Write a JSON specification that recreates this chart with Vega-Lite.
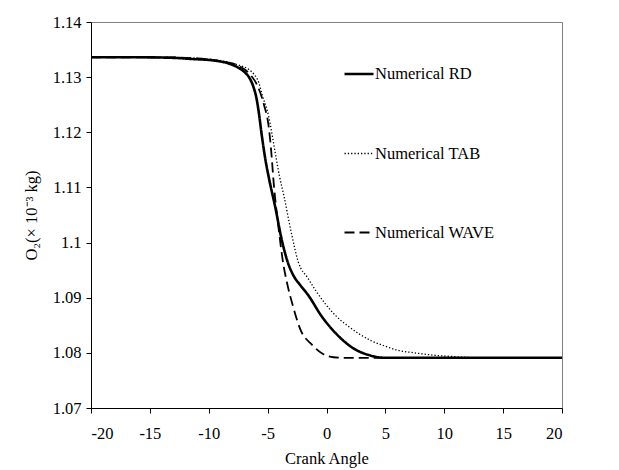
{
  "$schema": "https://vega.github.io/schema/vega-lite/v6.json",
  "autosize": "none",
  "width": 471,
  "height": 386,
  "padding": {"left": 91, "top": 22, "right": 57, "bottom": 62},
  "background": "white",
  "config": {
    "view": {"stroke": "#808080", "strokeWidth": 1},
    "font": "Liberation Serif",
    "axis": {
      "grid": false,
      "domainColor": "black",
      "tickColor": "black",
      "labelColor": "black",
      "titleColor": "black",
      "labelFont": "Liberation Serif",
      "titleFont": "Liberation Serif",
      "labelFontSize": 16.5,
      "titleFontSize": 16.5,
      "titleFontWeight": "normal",
      "tickSize": 5
    },
    "legend": {
      "labelFont": "Liberation Serif",
      "labelFontSize": 16.5,
      "labelColor": "black",
      "symbolStrokeColor": "black"
    }
  },
  "data": {
    "values": [
      {"angle": -20, "o2": 1.1336, "series": "Numerical RD"},
      {"angle": -16, "o2": 1.1336, "series": "Numerical RD"},
      {"angle": -13, "o2": 1.1335, "series": "Numerical RD"},
      {"angle": -11.5, "o2": 1.1333, "series": "Numerical RD"},
      {"angle": -9.5, "o2": 1.133, "series": "Numerical RD"},
      {"angle": -8.2, "o2": 1.1324, "series": "Numerical RD"},
      {"angle": -7.4, "o2": 1.1316, "series": "Numerical RD"},
      {"angle": -6.9, "o2": 1.1308, "series": "Numerical RD"},
      {"angle": -6.5, "o2": 1.1297, "series": "Numerical RD"},
      {"angle": -6.2, "o2": 1.1282, "series": "Numerical RD"},
      {"angle": -5.95, "o2": 1.1262, "series": "Numerical RD"},
      {"angle": -5.75, "o2": 1.1236, "series": "Numerical RD"},
      {"angle": -5.5, "o2": 1.1195, "series": "Numerical RD"},
      {"angle": -5.2, "o2": 1.1152, "series": "Numerical RD"},
      {"angle": -4.9, "o2": 1.1118, "series": "Numerical RD"},
      {"angle": -4.35, "o2": 1.1064, "series": "Numerical RD"},
      {"angle": -3.8, "o2": 1.1005, "series": "Numerical RD"},
      {"angle": -3.3, "o2": 1.0965, "series": "Numerical RD"},
      {"angle": -2.85, "o2": 1.0942, "series": "Numerical RD"},
      {"angle": -2.2, "o2": 1.0922, "series": "Numerical RD"},
      {"angle": -1.6, "o2": 1.0906, "series": "Numerical RD"},
      {"angle": -0.4, "o2": 1.0866, "series": "Numerical RD"},
      {"angle": 0.9, "o2": 1.0833, "series": "Numerical RD"},
      {"angle": 2.3, "o2": 1.0808, "series": "Numerical RD"},
      {"angle": 3.6, "o2": 1.0796, "series": "Numerical RD"},
      {"angle": 5, "o2": 1.0791, "series": "Numerical RD"},
      {"angle": 20, "o2": 1.0791, "series": "Numerical RD"},

      {"angle": -20, "o2": 1.1336, "series": "Numerical TAB"},
      {"angle": -14, "o2": 1.1336, "series": "Numerical TAB"},
      {"angle": -11, "o2": 1.1334, "series": "Numerical TAB"},
      {"angle": -9, "o2": 1.133, "series": "Numerical TAB"},
      {"angle": -7.5, "o2": 1.1322, "series": "Numerical TAB"},
      {"angle": -6.6, "o2": 1.1314, "series": "Numerical TAB"},
      {"angle": -6.15, "o2": 1.1305, "series": "Numerical TAB"},
      {"angle": -5.75, "o2": 1.129, "series": "Numerical TAB"},
      {"angle": -5.45, "o2": 1.1267, "series": "Numerical TAB"},
      {"angle": -4.9, "o2": 1.1228, "series": "Numerical TAB"},
      {"angle": -4.5, "o2": 1.1181, "series": "Numerical TAB"},
      {"angle": -3.98, "o2": 1.1119, "series": "Numerical TAB"},
      {"angle": -3.62, "o2": 1.1085, "series": "Numerical TAB"},
      {"angle": -2.95, "o2": 1.1014, "series": "Numerical TAB"},
      {"angle": -2.4, "o2": 1.0965, "series": "Numerical TAB"},
      {"angle": -1.6, "o2": 1.0936, "series": "Numerical TAB"},
      {"angle": -0.85, "o2": 1.0911, "series": "Numerical TAB"},
      {"angle": -0.1, "o2": 1.0889, "series": "Numerical TAB"},
      {"angle": 0.8, "o2": 1.0867, "series": "Numerical TAB"},
      {"angle": 1.8, "o2": 1.0849, "series": "Numerical TAB"},
      {"angle": 2.8, "o2": 1.0834, "series": "Numerical TAB"},
      {"angle": 3.8, "o2": 1.0822, "series": "Numerical TAB"},
      {"angle": 5.0, "o2": 1.0812, "series": "Numerical TAB"},
      {"angle": 6.0, "o2": 1.0805, "series": "Numerical TAB"},
      {"angle": 7.5, "o2": 1.08, "series": "Numerical TAB"},
      {"angle": 9, "o2": 1.0796, "series": "Numerical TAB"},
      {"angle": 11, "o2": 1.0793, "series": "Numerical TAB"},
      {"angle": 13, "o2": 1.0791, "series": "Numerical TAB"},
      {"angle": 20, "o2": 1.0791, "series": "Numerical TAB"},

      {"angle": -20, "o2": 1.1336, "series": "Numerical WAVE"},
      {"angle": -14, "o2": 1.1336, "series": "Numerical WAVE"},
      {"angle": -11, "o2": 1.1334, "series": "Numerical WAVE"},
      {"angle": -9, "o2": 1.1329, "series": "Numerical WAVE"},
      {"angle": -7.4, "o2": 1.132, "series": "Numerical WAVE"},
      {"angle": -6.5, "o2": 1.1305, "series": "Numerical WAVE"},
      {"angle": -5.9, "o2": 1.1286, "series": "Numerical WAVE"},
      {"angle": -5.3, "o2": 1.1249, "series": "Numerical WAVE"},
      {"angle": -4.92, "o2": 1.1212, "series": "Numerical WAVE"},
      {"angle": -4.72, "o2": 1.1172, "series": "Numerical WAVE"},
      {"angle": -4.48, "o2": 1.1107, "series": "Numerical WAVE"},
      {"angle": -4.04, "o2": 1.1021, "series": "Numerical WAVE"},
      {"angle": -3.74, "o2": 1.0971, "series": "Numerical WAVE"},
      {"angle": -3.3, "o2": 1.0922, "series": "Numerical WAVE"},
      {"angle": -2.85, "o2": 1.0885, "series": "Numerical WAVE"},
      {"angle": -2.25, "o2": 1.0844, "series": "Numerical WAVE"},
      {"angle": -1.2, "o2": 1.0814, "series": "Numerical WAVE"},
      {"angle": -0.3, "o2": 1.0798, "series": "Numerical WAVE"},
      {"angle": 0.6, "o2": 1.0792, "series": "Numerical WAVE"},
      {"angle": 1.6, "o2": 1.0791, "series": "Numerical WAVE"},
      {"angle": 20, "o2": 1.0791, "series": "Numerical WAVE"}
    ]
  },
  "mark": {"type": "line", "color": "black", "interpolate": "monotone", "clip": true},
  "encoding": {
    "x": {
      "field": "angle",
      "type": "quantitative",
      "title": "Crank Angle",
      "scale": {"domain": [-20, 20], "nice": false, "zero": false},
      "axis": {"values": [-20, -15, -10, -5, 0, 5, 10, 15, 20], "labelExpr": "'' + datum.value", "labelPadding": 12, "titlePadding": 9}
    },
    "y": {
      "field": "o2",
      "type": "quantitative",
      "title": "O₂(× 10⁻³ kg)",
      "scale": {"domain": [1.07, 1.14], "nice": false, "zero": false},
      "axis": {"values": [1.07, 1.08, 1.09, 1.1, 1.11, 1.12, 1.13, 1.14], "format": ".2~f", "labelPadding": 5, "titlePadding": 13}
    },
    "strokeDash": {
      "field": "series",
      "type": "nominal",
      "scale": {"domain": ["Numerical RD", "Numerical TAB", "Numerical WAVE"], "range": [[1, 0], [1.3, 2], [10, 5]]},
      "legend": {
        "title": null,
        "orient": "none",
        "legendX": 252,
        "legendY": 36,
        "symbolType": "stroke",
        "symbolSize": 841,
        "rowPadding": 55,
        "labelOffset": 0,
        "symbolStrokeColor": "black"
      }
    },
    "strokeWidth": {
      "field": "series",
      "type": "nominal",
      "scale": {"type": "ordinal", "domain": ["Numerical RD", "Numerical TAB", "Numerical WAVE"], "range": [2.6, 1.3, 1.8]},
      "legend": {
        "title": null,
        "orient": "none",
        "legendX": 252,
        "legendY": 36,
        "symbolType": "stroke",
        "symbolSize": 841,
        "rowPadding": 55,
        "labelOffset": 0,
        "symbolStrokeColor": "black"
      }
    }
  }
}
